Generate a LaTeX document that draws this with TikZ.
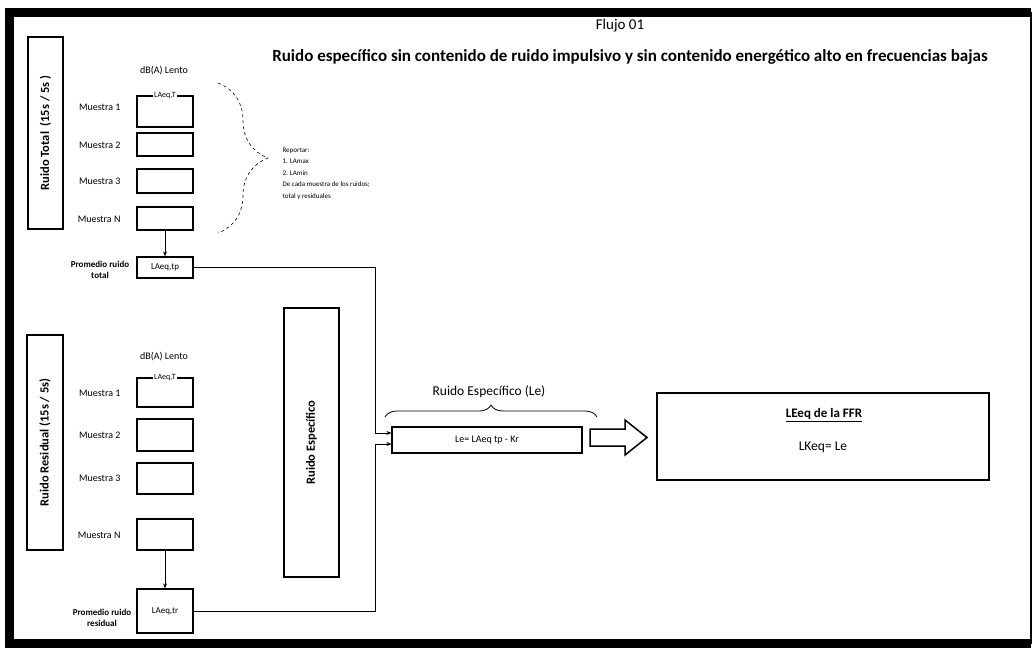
\documentclass[tikz,border=0pt]{standalone}
\usepackage{fontspec}
\setmainfont{Carlito}
\usetikzlibrary{arrows, arrows.meta, decorations.pathreplacing, calc}

\begin{document}
\begin{tikzpicture}[x=1pt, y=-1pt,
  box/.style={draw, line width=1.2pt, minimum width=56pt, inner sep=0pt},
  sidebox/.style={draw, line width=1.2pt, rotate=90, inner sep=0pt, font=\fontsize{12.5}{14}\selectfont\bfseries},
  lbl/.style={font=\fontsize{10}{12}\selectfont},
  tiny/.style={font=\fontsize{8}{9}\selectfont},
  prom/.style={font=\fontsize{9}{11}\selectfont\bfseries, align=center},
  conn/.style={line width=0.8pt},
  arr/.style={line width=0.8pt, -{Stealth[length=5pt, width=4pt]}}]
\useasboundingbox (0,0) rectangle (1036,648);

%frame
\draw[line width=9pt] (1031,12) -- (9.5,12) -- (9.5,643.5) -- (1031,643.5);
\draw[line width=1.2pt] (1031,12) -- (1031,644);

%titles
\node[font=\fontsize{15}{17}\selectfont] (flujo) at (620,26) {Flujo 01};
\node[font=\fontsize{17}{19}\selectfont\bfseries] (titulo) at (630,57) {Ruido específico sin contenido de ruido impulsivo y sin contenido energético alto en frecuencias bajas};

%ruido total
\node[sidebox, minimum width=192pt, minimum height=35pt] (total) at (45.5,133) {Ruido Total \ (15s / 5s )};
\node[lbl] (dbt) at (164,71) {dB(A) Lento};

\node[box, minimum height=31pt] (t1) at (165,111.5) {};
\node[box, minimum height=23pt] (t2) at (165,144.5) {};
\node[box, minimum height=24pt] (t3) at (165,181) {};
\node[box, minimum height=23pt] (tn) at (165,218.5) {};
\node[tiny, fill=white, inner sep=1pt] (t1lbl) at (t1.north) {LAeq,T};

\node[lbl, anchor=east] (mt1) at (124,107) {Muestra 1};
\node[lbl, anchor=east] (mt2) at (124,145) {Muestra 2};
\node[lbl, anchor=east] (mt3) at (124,181) {Muestra 3};
\node[lbl, anchor=east] (mtn) at (124,219) {Muestra N};

\node[box, minimum height=21pt] (pt) at (165,267.5) {\fontsize{9}{10}\selectfont LAeq,tp};
\node[prom] (ptlbl) at (100,270) {Promedio ruido\\total};
\draw[arr] (tn.south) -- (pt.north);

%reportar
\draw[line width=0.6pt, dashed, decorate, decoration={brace, amplitude=50pt}] (218,83) -- (218,233);
\node[font=\fontsize{7}{11.5}\selectfont, align=left, anchor=north west] (rep) at (279,144) {Reportar:\\1. LAmax\\2. LAmín\\De cada muestra de los ruidos;\\total y residuales};

%ruido residual
\node[sidebox, minimum width=215pt, minimum height=36pt] (resid) at (45,442.5) {Ruido Residual (15s / 5s)};
\node[lbl] (dbr) at (164,357) {dB(A) Lento};

\node[box, minimum height=29pt] (r1) at (165,392.5) {};
\node[box, minimum height=32pt] (r2) at (165,435) {};
\node[box, minimum height=31pt] (r3) at (165,478.5) {};
\node[box, minimum height=31pt] (rn) at (165,534.5) {};
\node[tiny, fill=white, inner sep=1pt] (r1lbl) at (r1.north) {LAeq,T};

\node[lbl, anchor=east] (mr1) at (124,393) {Muestra 1};
\node[lbl, anchor=east] (mr2) at (124,435) {Muestra 2};
\node[lbl, anchor=east] (mr3) at (124,478) {Muestra 3};
\node[lbl, anchor=east] (mrn) at (124,535) {Muestra N};

\node[box, minimum height=44pt] (pr) at (165,611) {\fontsize{9}{10}\selectfont LAeq,tr};
\node[prom] (prlbl) at (102,618) {Promedio ruido\\residual};
\draw[arr] (rn.south) -- (pr.north);

%ruido especifico
\node[sidebox, minimum width=269pt, minimum height=55pt] (esp) at (311.5,442.5) {Ruido Específico};

\node[box, minimum width=190pt, minimum height=26pt] (le) at (487,440) {\fontsize{10}{12}\selectfont Le= LAeq tp - Kr};
\draw[line width=0.8pt, decorate, decoration={brace, amplitude=12pt}] (385,417) -- (597,417);
\node[font=\fontsize{13.5}{15}\selectfont] (lelbl) at (489,392) {Ruido Específico (Le)};

\coordinate (jt) at (375,267.5);
\coordinate (jr) at (375,611);
\draw[arr] (pt.east) -- (jt) |- ($(le.west)+(0,-7)$);
\draw[arr] (pr.east) -- (jr) |- ($(le.west)+(0,4)$);

%flecha
\draw[line width=1.5pt] (590,429) -- (625,429) -- (625,420) -- (647,437.5) -- (625,455) -- (625,446) -- (590,446) -- cycle;

%resultado
\node[draw, line width=1.2pt, minimum width=332pt, minimum height=87pt] (ffr) at (823,436.5) {};
\node[font=\fontsize{13}{15}\selectfont\bfseries] (ffrt) at (824,415) {\underline{LEeq de la FFR}};
\node[font=\fontsize{13.5}{15}\selectfont] (ffrl) at (823,447) {LKeq= Le};

\end{tikzpicture}
\end{document}
